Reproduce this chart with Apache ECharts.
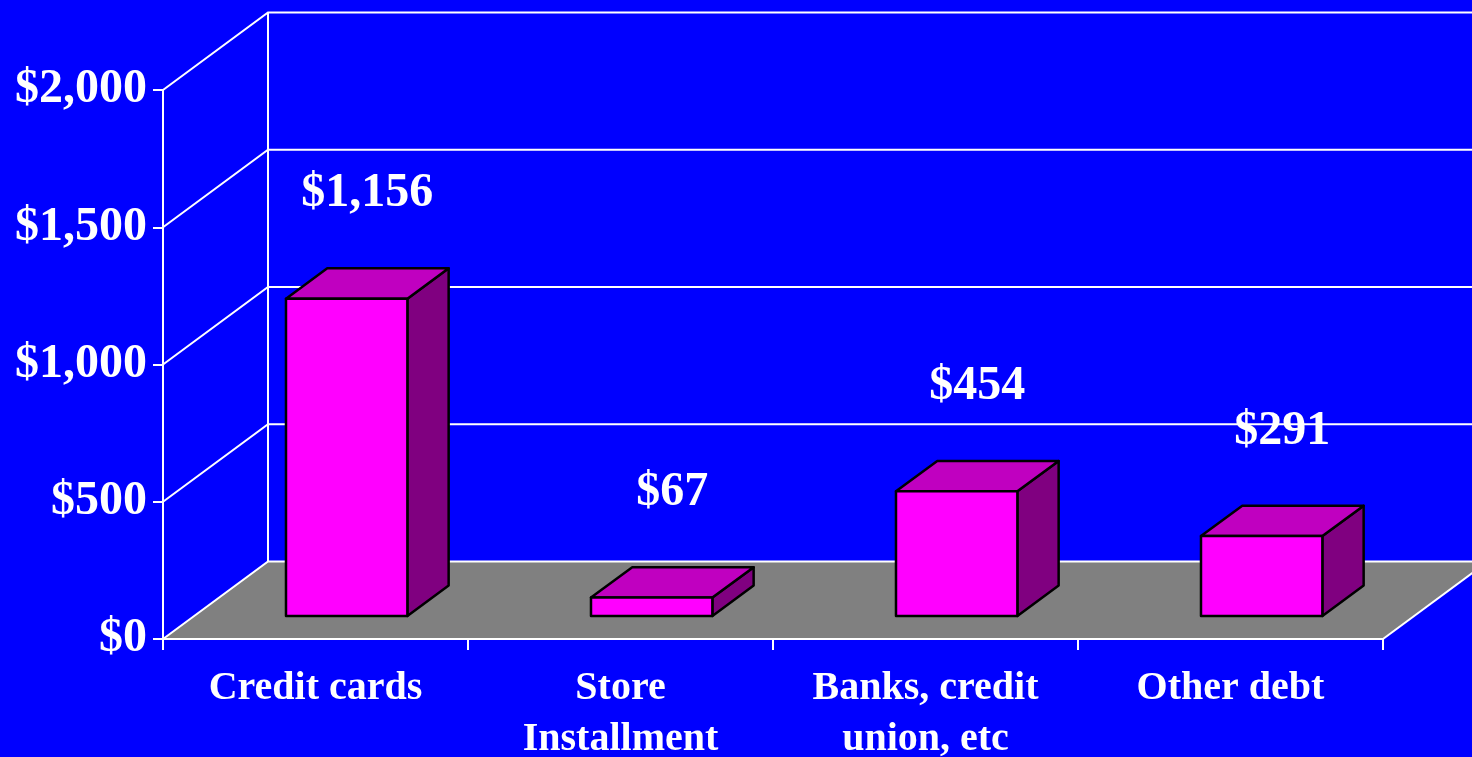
<!DOCTYPE html>
<html>
<head>
<meta charset="utf-8">
<script src="https://cdn.jsdelivr.net/npm/echarts@6/dist/echarts.min.js"></script>
<style>
  html, body { margin: 0; padding: 0; background: #0000ff; }
  #chart { width: 1472px; height: 757px; }
</style>
</head>
<body>
<div id="chart"></div>
<script>
const categories = ["Credit cards", "Store\nInstallment", "Banks, credit\nunion, etc", "Other debt"];
const debtValues = [1156, 67, 454, 291];
const yTicks = [0, 500, 1000, 1500, 2000];

// fake 3D projection: how far the back wall sits from the front plane
const DX = 105, DY = -77.5;
const BAR_FRONT = 0.297, BAR_BACK = 0.69;
const FONT = "'Liberation Serif', 'Times New Roman', serif";

function money(v) {
  return "$" + v.toLocaleString("en-US");
}

const chart = echarts.init(document.getElementById("chart"));

const option = {
  backgroundColor: "#0000ff",
  animation: false,
  grid: {
    left: 163, right: 89, top: 90, bottom: 118,
    containLabel: false, outerBoundsMode: "none"
  },
  xAxis: {
    type: "category",
    data: categories,
    z: 5,
    axisLine: { lineStyle: { color: "#fff", width: 2 } },
    axisTick: { show: true, length: 11, lineStyle: { color: "#fff", width: 2 } },
    axisLabel: {
      color: "#fff", fontFamily: FONT, fontWeight: "bold", fontSize: 40,
      lineHeight: 51, margin: 24, interval: 0
    },
    splitLine: { show: false }
  },
  yAxis: {
    type: "value",
    min: 0, max: 2000, interval: 500,
    z: 5,
    axisLine: { show: true, lineStyle: { color: "#fff", width: 2 } },
    axisTick: { show: true, length: 10, lineStyle: { color: "#fff", width: 2 } },
    axisLabel: {
      color: "#fff", fontFamily: FONT, fontWeight: "bold", fontSize: 48,
      margin: 16, padding: [6, 0, 0, 0], formatter: money
    },
    splitLine: { show: false }
  },
  series: [
    {
      // floor, back wall and its gridlines
      type: "custom",
      z: 1,
      silent: true,
      data: yTicks,
      encode: { y: 0 },
      renderItem(params, api) {
        const cs = params.coordSys;
        const x0 = cs.x, x1 = cs.x + cs.width;
        const y = api.coord([0, api.value(0)])[1];
        const line = { stroke: "#fff", lineWidth: 2 };
        const children = [];
        if (api.value(0) === 0) {
          children.push({
            type: "polygon",
            shape: { points: [[x0, y], [x1, y], [x1 + DX, y + DY], [x0 + DX, y + DY]] },
            style: { fill: "#808080" }
          });
          children.push({
            type: "line",
            shape: { x1: x1, y1: y, x2: x1 + DX, y2: y + DY },
            style: line
          });
        }
        if (api.value(0) === yTicks[yTicks.length - 1]) {
          const yb = api.coord([0, 0])[1];
          children.push({
            type: "line",
            shape: { x1: x0 + DX, y1: y + DY, x2: x0 + DX, y2: yb + DY },
            style: line
          });
        }
        children.push({
          type: "polyline",
          shape: { points: [[x0, y], [x0 + DX, y + DY], [x1 + DX, y + DY]] },
          style: Object.assign({ fill: null }, line)
        });
        return { type: "group", children: children };
      }
    },
    {
      // the 3D boxes
      type: "custom",
      z: 3,
      data: debtValues.map((v, i) => [i, v]),
      encode: { x: 0, y: 1 },
      renderItem(params, api) {
        const base = api.coord([api.value(0), 0]);
        const top = api.coord([api.value(0), api.value(1)]);
        const half = api.size([1, 0])[0] * 0.199;
        const fx = base[0] + BAR_FRONT * DX, fy = BAR_FRONT * DY;
        const bx = (BAR_BACK - BAR_FRONT) * DX, by = (BAR_BACK - BAR_FRONT) * DY;
        const l = fx - half, r = fx + half;
        const yb = base[1] + fy, yt = top[1] + fy;
        const edge = { stroke: "#000", lineWidth: 2.5, lineJoin: "round" };
        return {
          type: "group",
          children: [
            {
              type: "polygon",
              shape: { points: [[r, yb], [r + bx, yb + by], [r + bx, yt + by], [r, yt]] },
              style: Object.assign({ fill: "#800080" }, edge)
            },
            {
              type: "polygon",
              shape: { points: [[l, yt], [r, yt], [r + bx, yt + by], [l + bx, yt + by]] },
              style: Object.assign({ fill: "#c000c0" }, edge)
            },
            {
              type: "polygon",
              shape: { points: [[l, yb], [r, yb], [r, yt], [l, yt]] },
              style: Object.assign({ fill: "#ff00ff" }, edge)
            },
            {
              type: "text",
              x: fx + bx / 2,
              y: yt - 105,
              style: {
                text: money(api.value(1)),
                fill: "#fff", font: "bold 48px " + FONT,
                align: "center", verticalAlign: "middle"
              }
            }
          ]
        };
      }
    }
  ]
};

chart.setOption(option);
</script>
</body>
</html>
